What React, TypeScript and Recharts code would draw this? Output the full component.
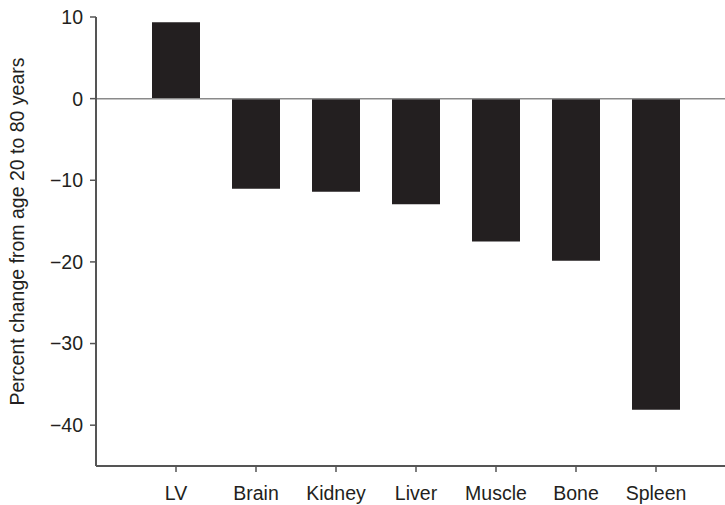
import React from "react";
import { BarChart, Bar, XAxis, YAxis, ReferenceLine } from "recharts";

const categories = ["LV", "Brain", "Kidney", "Liver", "Muscle", "Bone", "Spleen"];
const changes = [9.35, -11.05, -11.4, -12.95, -17.5, -19.85, -38.1];
const yTicks = [10, 0, -10, -20, -30, -40];

const data = categories.map((name, i) => ({ name, value: changes[i] }));

const FONT = "'Liberation Sans', Arial, Helvetica, sans-serif";
const TEXT = "#231f20";
const AXIS = "#555555";
const FS = 19.5;

const fmt = (v: number) => (v < 0 ? "\u2212" + Math.abs(v) : String(v));

const YLabel = (props: any) => {
  const { viewBox } = props;
  const cy = viewBox.y + viewBox.height / 2 - 10;
  const cx = 24;
  return (
    <text
      x={cx}
      y={cy}
      transform={`rotate(-90, ${cx}, ${cy})`}
      textAnchor="middle"
      fontFamily={FONT}
      fontSize={FS}
      fill={TEXT}
    >
      Percent change from age 20 to 80 years
    </text>
  );
};

export default function App() {
  return (
    <div style={{ position: "absolute", left: 0, top: 0, width: 725, height: 505, background: "#fff" }}>
      <BarChart
        width={725}
        height={505}
        data={data}
        margin={{ top: 17, right: 0, left: 0, bottom: 0 }}
        barSize={48}
      >
        <XAxis
          dataKey="name"
          height={39}
          padding={{ left: 40, right: 29 }}
          axisLine={{ stroke: AXIS, strokeWidth: 2 }}
          tickLine={{ stroke: AXIS, strokeWidth: 1.5 }}
          tickSize={6}
          tickMargin={14}
          tick={{ fill: TEXT, fontSize: FS, fontFamily: FONT }}
          interval={0}
        />
        <YAxis
          width={96}
          domain={[-45, 10]}
          ticks={yTicks}
          type="number"
          allowDataOverflow
          axisLine={{ stroke: AXIS, strokeWidth: 2 }}
          tickLine={{ stroke: AXIS, strokeWidth: 1.5 }}
          tickSize={6}
          tickMargin={7}
          tickFormatter={fmt}
          tick={{ fill: TEXT, fontSize: FS, fontFamily: FONT }}
          label={<YLabel />}
        />
        <ReferenceLine y={0} stroke="#8a8a8a" strokeWidth={1.5} />
        <Bar dataKey="value" fill="#231f20" isAnimationActive={false} />
      </BarChart>
    </div>
  );
}
